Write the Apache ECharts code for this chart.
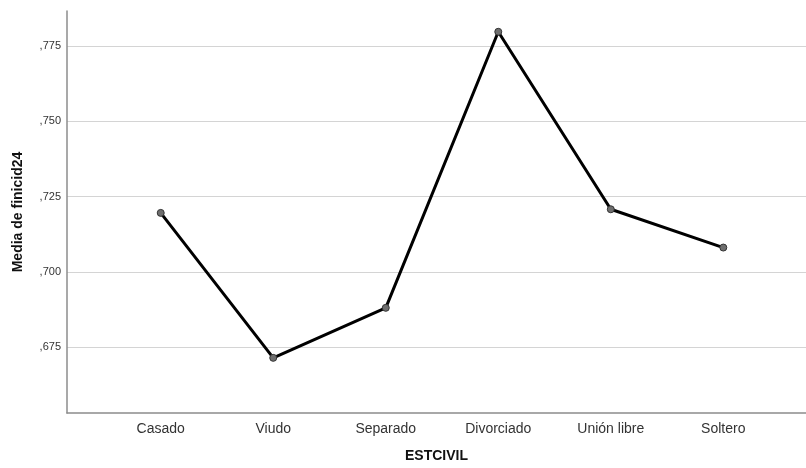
<!DOCTYPE html>
<html>
<head>
<meta charset="utf-8">
<script src="https://cdn.jsdelivr.net/npm/echarts@6/dist/echarts.min.js"></script>
<style>html,body{margin:0;padding:0;background:#fff}#c{width:806px;height:468px}</style>
</head>
<body>
<div id="c"></div>
<script>
var categories = ['Casado', 'Viudo', 'Separado', 'Divorciado', 'Unión libre', 'Soltero'];
var means = [0.7196, 0.6715, 0.6881, 0.7797, 0.7208, 0.7081];
var yTicks = [0.675, 0.700, 0.725, 0.750, 0.775];

var chart = echarts.init(document.getElementById('c'), null, {renderer: 'canvas'});
var fontFam = '"Liberation Sans", Arial, sans-serif';
chart.setOption({
  animation: false,
  backgroundColor: '#ffffff',
  grid: {left: 67, right: 0, top: 11, bottom: 54, containLabel: false},
  xAxis: {
    type: 'value',
    min: -0.833,
    max: 5.735,
    minInterval: 1,
    maxInterval: 1,
    name: 'ESTCIVIL',
    nameLocation: 'middle',
    nameGap: 36,
    nameTextStyle: {fontFamily: fontFam, fontSize: 14, fontWeight: 'bold', color: '#111'},
    axisLine: {show: true, onZero: false, lineStyle: {color: '#8c8c8c', width: 1.5}},
    axisTick: {show: false},
    splitLine: {show: false},
    axisLabel: {
      margin: 9,
      fontFamily: fontFam, fontSize: 14, color: '#333',
      showMinLabel: false, showMaxLabel: false,
      formatter: function (v) {
        var i = Math.round(v);
        return Math.abs(v - i) < 1e-6 && categories[i] !== undefined ? categories[i] : '';
      }
    }
  },
  yAxis: {
    type: 'value',
    min: 0.6532,
    max: 0.7866,
    minInterval: 0.025,
    maxInterval: 0.025,
    name: 'Media de finicid24',
    nameLocation: 'middle',
    nameGap: 42,
    nameTextStyle: {fontFamily: fontFam, fontSize: 14, fontWeight: 'bold', color: '#111'},
    axisLine: {show: true, onZero: false, lineStyle: {color: '#8c8c8c', width: 1.5}},
    axisTick: {show: false},
    splitLine: {show: true, showMinLine: false, showMaxLine: false, lineStyle: {color: '#d4d4d4', width: 1.2}},
    axisLabel: {
      margin: 6,
      fontFamily: fontFam, fontSize: 11, color: '#333',
      showMinLabel: false, showMaxLabel: false,
      formatter: function (v) {
        for (var k = 0; k < yTicks.length; k++) {
          if (Math.abs(v - yTicks[k]) < 1e-6) return ',' + yTicks[k].toFixed(3).split('.')[1];
        }
        return '';
      }
    }
  },
  series: [{
    type: 'line',
    data: means.map(function (m, i) { return [i, m]; }),
    lineStyle: {color: '#000', width: 3},
    symbol: 'circle',
    symbolSize: 7,
    itemStyle: {color: '#6e6e6e', borderColor: '#333', borderWidth: 1},
    showSymbol: true,
    clip: false
  }]
});
</script>
</body>
</html>
